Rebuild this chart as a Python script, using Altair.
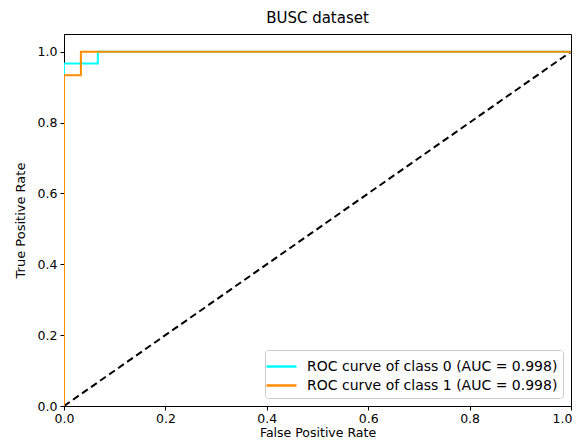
import altair as alt
import pandas as pd

# ROC curve points
class0_fpr = [0.0, 0.0, 0.0667, 0.0667, 1.0]
class0_tpr = [0.0, 0.9667, 0.9667, 1.0, 1.0]
class1_fpr = [0.0, 0.0, 0.0333, 0.0333, 1.0]
class1_tpr = [0.0, 0.9333, 0.9333, 1.0, 1.0]
diag_x = [0.0, 1.0]
diag_y = [0.0, 1.0]
labels = ["ROC curve of class 0 (AUC = 0.998)", "ROC curve of class 1 (AUC = 0.998)"]
colors = ["#00FFFF", "#FF8C00"]
x_ticks = [0.0, 0.2, 0.4, 0.6, 0.8, 1.0]
y_ticks = [0.0, 0.2, 0.4, 0.6, 0.8, 1.0]

rows = []
for lab, fx, ty in [(labels[0], class0_fpr, class0_tpr), (labels[1], class1_fpr, class1_tpr)]:
    for i, (a, b) in enumerate(zip(fx, ty)):
        rows.append({"series": lab, "fpr": a, "tpr": b, "order": i})
df = pd.DataFrame(rows)
diag = pd.DataFrame({"fpr": diag_x, "tpr": diag_y})

FONT = "DejaVu Sans"

xenc = alt.X("fpr:Q", scale=alt.Scale(domain=[0, 1], nice=False, zero=False),
             axis=alt.Axis(values=x_ticks, format=".1f", title="False Positive Rate",
                           titleFontSize=12.5, labelPadding=2, titlePadding=2,
                           labelAlign={"condition": {"test": "datum.value >= 1", "value": "right"},
                                       "value": "center"},
                           labelOffset={"condition": {"test": "datum.value >= 1", "value": 1},
                                        "value": 0}))
yenc = alt.Y("tpr:Q", scale=alt.Scale(domain=[0, 1.05], nice=False, zero=False),
             axis=alt.Axis(values=y_ticks, format=".1f", title="True Positive Rate",
                           titleFontSize=13, titlePadding=10))

curves = alt.Chart(df).mark_line(strokeWidth=2, clip=True, interpolate="linear").encode(
    x=xenc,
    y=yenc,
    order="order:Q",
    color=alt.Color("series:N", scale=alt.Scale(domain=labels, range=colors),
                    legend=alt.Legend(title=None, orient="bottom-right", offset=8,
                                      symbolType="M-1.5,0H1.5", symbolSize=400,
                                      symbolStrokeWidth=2.5, labelFontSize=14,
                                      labelFont=FONT, labelColor="black",
                                      strokeColor="#cccccc", fillColor="white",
                                      padding=5, rowPadding=0, cornerRadius=3,
                                      labelOffset=14, labelLimit=400)),
)

diag_line = alt.Chart(diag).mark_line(color="black", strokeWidth=2, strokeDash=[7, 4], clip=True).encode(
    x=alt.X("fpr:Q"),
    y=alt.Y("tpr:Q"),
)

chart = alt.layer(diag_line, curves).properties(
    width=507,
    height=372,
    title=alt.TitleParams("BUSC dataset", font=FONT, fontSize=15, fontWeight="normal",
                          color="black", offset=8),
    autosize=alt.AutoSizeParams(type="none"),
    padding={"left": 56, "top": 26, "right": 1, "bottom": 34},
).configure_view(
    stroke="black", strokeWidth=1
).configure_axis(
    grid=False, domainColor="black", tickColor="black", tickSize=4,
    labelFont=FONT, labelFontSize=12.5, labelColor="black", labelPadding=3,
    titleFont=FONT, titleColor="black", titleFontWeight="normal",
)

chart.save("out.html", embed_options={"renderer": "svg", "actions": False})
